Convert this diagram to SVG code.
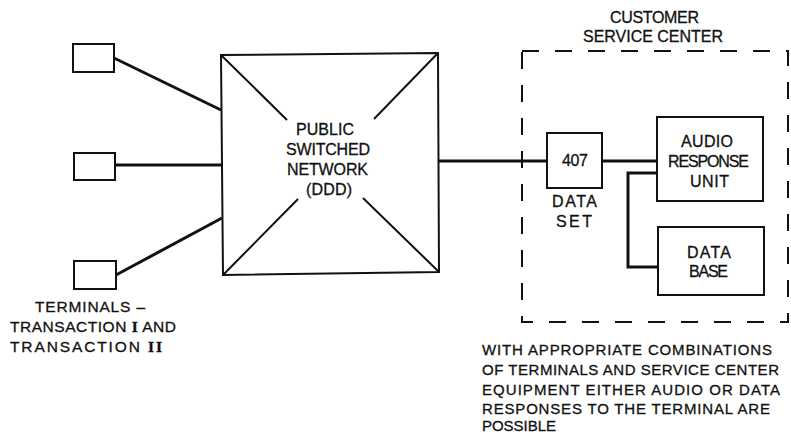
<svg xmlns="http://www.w3.org/2000/svg" width="791" height="434" viewBox="0 0 791 434">
<style>
.box{fill:none;stroke:#111;stroke-width:2}
.wire{fill:none;stroke:#111;stroke-width:3;stroke-linejoin:miter}
.thin{fill:none;stroke:#111;stroke-width:2}
.dash{fill:none;stroke:#111;stroke-width:2;stroke-dasharray:17 16}
text{font-family:"Liberation Sans",Arial,sans-serif;fill:#111;font-size:16px;stroke:#111;stroke-width:0.3}
.s{font-size:15px}
.t{font-size:15.5px}
.r{font-family:"Liberation Serif","Times New Roman",serif;font-weight:bold}
</style>
<rect width="791" height="434" fill="#fff"/>
<g id="connectors">
<path class="wire" d="M114,58 L221,110"/>
<path class="wire" d="M115,165 L221,165"/>
<path class="wire" d="M116,275 L222,218"/>
<path class="wire" d="M439,161 L547,161"/>
<path class="wire" d="M602,161 L657,161"/>
<path class="wire" d="M657,173 L628,173 L628,267 L658,267"/>
</g>
<g id="terminal1"><rect class="box" x="73" y="44" width="41" height="28"/></g>
<g id="terminal2"><rect class="box" x="74" y="153" width="41" height="27"/></g>
<g id="terminal3"><rect class="box" x="74" y="261" width="42" height="28"/></g>
<g id="terminals-label">
<text class="t" x="35" y="312" textLength="110" lengthAdjust="spacing">TERMINALS –</text>
<text class="t" x="10" y="332" textLength="166" lengthAdjust="spacing">TRANSACTION <tspan class="r">I</tspan> AND</text>
<text class="t" x="10" y="352" textLength="152" lengthAdjust="spacing">TRANSACTION <tspan class="r">II</tspan></text>
</g>
<g id="network">
<polygon class="box" points="221,55 438,53 439,272 223,275"/>
<path class="thin" d="M221,55 L287,120 M438,53 L374,119 M223,275 L298,199 M439,272 L363,198"/>
<text x="296" y="135" textLength="58" lengthAdjust="spacing">PUBLIC</text>
<text x="286" y="155" textLength="84" lengthAdjust="spacing">SWITCHED</text>
<text x="287" y="175" textLength="81" lengthAdjust="spacing">NETWORK</text>
<text x="306" y="195" textLength="46" lengthAdjust="spacing">(DDD)</text>
</g>
<g id="service-center">
<rect class="dash" x="522" y="51" width="266" height="271"/>
<text x="610" y="23" textLength="89" lengthAdjust="spacing">CUSTOMER</text>
<text x="583" y="42" textLength="140" lengthAdjust="spacing">SERVICE CENTER</text>
</g>
<g id="dataset">
<rect class="box" x="547" y="133" width="55" height="55"/>
<text x="562" y="166" textLength="26" lengthAdjust="spacing">407</text>
<text x="552" y="207" textLength="45" lengthAdjust="spacing">DATA</text>
<text x="556" y="227" textLength="36" lengthAdjust="spacing">SET</text>
</g>
<g id="audio-response-unit">
<rect class="box" x="657" y="117" width="106" height="84"/>
<text x="681" y="147" textLength="52" lengthAdjust="spacing">AUDIO</text>
<text x="668" y="167" textLength="81" lengthAdjust="spacing">RESPONSE</text>
<text x="690" y="187" textLength="39" lengthAdjust="spacing">UNIT</text>
</g>
<g id="database">
<rect class="box" x="658" y="227" width="106" height="68"/>
<text x="687" y="258" textLength="44" lengthAdjust="spacing">DATA</text>
<text x="689" y="277" textLength="39" lengthAdjust="spacing">BASE</text>
</g>
<g id="note">
<text class="s" x="482" y="355" textLength="290" lengthAdjust="spacing">WITH APPROPRIATE COMBINATIONS</text>
<text class="s" x="482" y="375" textLength="297" lengthAdjust="spacing">OF TERMINALS AND SERVICE CENTER</text>
<text class="s" x="482" y="395" textLength="298" lengthAdjust="spacing">EQUIPMENT EITHER AUDIO OR DATA</text>
<text class="s" x="482" y="414" textLength="288" lengthAdjust="spacing">RESPONSES TO THE TERMINAL ARE</text>
<text class="s" x="482" y="431" textLength="74" lengthAdjust="spacing">POSSIBLE</text>
</g>
</svg>
